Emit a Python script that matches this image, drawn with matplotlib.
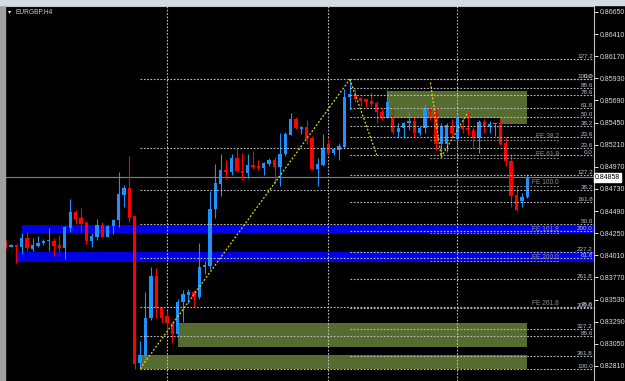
import matplotlib
matplotlib.use("Agg")
import matplotlib.pyplot as plt
import matplotlib.transforms as mtransforms
from matplotlib.patches import Rectangle

plt.rcParams['font.family'] = ['Liberation Sans', 'DejaVu Sans']

SYMBOL = 'EURGBP,H4'
LAST_PRICE = 0.84858

# H4 candles, left to right
opens = [0.84144, 0.84106, 0.84126, 0.84104, 0.84198, 0.84079, 0.84112, 0.84147, 0.84163, 0.84169,
         0.84123, 0.84093, 0.84310, 0.84484, 0.84415, 0.84364, 0.84169, 0.84213, 0.84339, 0.84213,
         0.84325, 0.84397, 0.84668, 0.84744, 0.84437, 0.82839, 0.82919, 0.83327, 0.83786, 0.83442,
         0.83352, 0.83280, 0.83157, 0.83508, 0.83580, 0.83616, 0.83562, 0.83881, 0.83898, 0.84510,
         0.84784, 0.84936, 0.84914, 0.85066, 0.84928, 0.84900, 0.84994, 0.84979, 0.84958, 0.85001,
         0.85041, 0.84965, 0.85110, 0.85316, 0.85489, 0.85384, 0.85402, 0.85283, 0.84944, 0.84990,
         0.85218, 0.85124, 0.85153, 0.85189, 0.85728, 0.85750, 0.85720, 0.85703, 0.85685, 0.85660,
         0.85568, 0.85503, 0.85533, 0.85352, 0.85388, 0.85443, 0.85468, 0.85334, 0.85388, 0.85594,
         0.85576, 0.85218, 0.85218, 0.85417, 0.85269, 0.85413, 0.85395, 0.85370, 0.85280, 0.85460,
         0.85399, 0.85432, 0.85443, 0.85226, 0.85037, 0.84665, 0.84603, 0.84640]
highs = [0.84177, 0.84130, 0.84133, 0.84249, 0.84264, 0.84195, 0.84220, 0.84184, 0.84310, 0.84198,
         0.84231, 0.84325, 0.84618, 0.84502, 0.84527, 0.84383, 0.84249, 0.84405, 0.84375, 0.84334,
         0.84405, 0.84911, 0.84773, 0.85091, 0.84445, 0.83081, 0.83616, 0.83881, 0.83876, 0.83453,
         0.83407, 0.83291, 0.83537, 0.83634, 0.83645, 0.83634, 0.84141, 0.83952, 0.84712, 0.85001,
         0.85110, 0.85045, 0.85110, 0.85171, 0.85124, 0.85110, 0.85145, 0.85045, 0.85026, 0.85066,
         0.85080, 0.85341, 0.85345, 0.85551, 0.85514, 0.85413, 0.85478, 0.85305, 0.85066, 0.85327,
         0.85269, 0.85178, 0.85226, 0.85811, 0.85920, 0.85811, 0.85731, 0.85714, 0.85785, 0.85685,
         0.85605, 0.85804, 0.85605, 0.85443, 0.85460, 0.85568, 0.85514, 0.85413, 0.85660, 0.85623,
         0.85605, 0.85449, 0.85443, 0.85489, 0.85514, 0.85514, 0.85562, 0.85406, 0.85478, 0.85486,
         0.85468, 0.85449, 0.85489, 0.85291, 0.85099, 0.84763, 0.84683, 0.84893]
lows = [0.84090, 0.84101, 0.83931, 0.84025, 0.84061, 0.84061, 0.84098, 0.84123, 0.84057, 0.84003,
        0.84050, 0.83967, 0.84260, 0.84350, 0.84264, 0.84133, 0.84104, 0.84177, 0.84206, 0.84204,
        0.84242, 0.84315, 0.84538, 0.84372, 0.82774, 0.82802, 0.82868, 0.83309, 0.83327, 0.83280,
        0.83171, 0.83063, 0.83146, 0.83291, 0.83490, 0.83453, 0.83537, 0.83808, 0.83862, 0.84412,
        0.84657, 0.84838, 0.84882, 0.84914, 0.84828, 0.84853, 0.84944, 0.84936, 0.84879, 0.84979,
        0.84784, 0.84763, 0.85088, 0.85312, 0.85378, 0.85323, 0.85218, 0.84936, 0.84763, 0.84979,
        0.85110, 0.85099, 0.85045, 0.85175, 0.85587, 0.85677, 0.85630, 0.85623, 0.85623, 0.85443,
        0.85478, 0.85497, 0.85327, 0.85297, 0.85280, 0.85370, 0.85297, 0.85316, 0.85341, 0.85478,
        0.85153, 0.85080, 0.85135, 0.85297, 0.85171, 0.85341, 0.85316, 0.85171, 0.85124, 0.85334,
        0.85334, 0.85305, 0.85207, 0.84979, 0.84538, 0.84495, 0.84538, 0.84629]
closes = [0.84106, 0.84123, 0.84101, 0.84198, 0.84090, 0.84123, 0.84147, 0.84169, 0.84180, 0.84112,
          0.84090, 0.84318, 0.84484, 0.84401, 0.84350, 0.84169, 0.84220, 0.84339, 0.84213, 0.84325,
          0.84394, 0.84679, 0.84744, 0.84419, 0.82832, 0.82929, 0.83334, 0.83786, 0.83436, 0.83334,
          0.83273, 0.83160, 0.83508, 0.83591, 0.83616, 0.83562, 0.83881, 0.83906, 0.84510, 0.84792,
          0.84936, 0.84914, 0.85066, 0.84922, 0.84904, 0.84994, 0.84972, 0.84958, 0.85015, 0.85041,
          0.84965, 0.85110, 0.85327, 0.85489, 0.85395, 0.85402, 0.85272, 0.84944, 0.85001, 0.85171,
          0.85124, 0.85167, 0.85196, 0.85731, 0.85755, 0.85706, 0.85685, 0.85677, 0.85649, 0.85568,
          0.85503, 0.85677, 0.85352, 0.85388, 0.85449, 0.85471, 0.85341, 0.85388, 0.85605, 0.85568,
          0.85218, 0.85413, 0.85424, 0.85334, 0.85497, 0.85378, 0.85370, 0.85286, 0.85460, 0.85399,
          0.85432, 0.85443, 0.85218, 0.85037, 0.84654, 0.84502, 0.84646, 0.84858]

# period separators (bar index)
separators = [30, 60, 84]

# blue supply/demand zones: start bar, upper price, lower price
zone_start = [3, 2]
zone_top = [0.84339, 0.84050]
zone_bottom = [0.84249, 0.83941]

# olive rectangles: first bar, last bar, upper price, lower price
box_from = [71, 92, 32, 25]
box_to = [97, 97, 97, 97]
box_top = [0.85796, 0.85500, 0.83280, 0.82924]
box_bottom = [0.85500, 0.85435, 0.83019, 0.82772]

# fibonacci retracements: bar where levels start, price at 0%, price at 100%
fib_start = [25, 64, 64]
fib_p0 = [0.85920, 0.85100, 0.85940]
fib_p100 = [0.82780, 0.85920, 0.85105]
fib_levels = [
    [0.0, 23.6, 38.2, 50.0, 61.8, 78.6, 88.6, 100.0],
    [0.0, 23.6, 38.2, 50.0, 61.8, 78.6, 88.6, 100.0, 127.2],
    [127.2, 161.8, 200.0, 227.2, 261.8, 300.0, 327.2, 361.8],
]
fib_trend_bars = [(25, 64), (64, 69)]
fib_trend_prices = [(0.82780, 0.85920), (0.85920, 0.85100)]

# fibonacci expansion: points A, B, C
fe_bars = [79, 81, 86]
fe_prices = [0.85884, 0.85076, 0.85565]
fe_levels = [38.2, 61.8, 100.0, 161.8, 200.0, 261.8]

yticks = [0.82810, 0.83050, 0.83290, 0.83530, 0.83770, 0.84010, 0.84250, 0.84490,
          0.84730, 0.84970, 0.85210, 0.85450, 0.85690, 0.85930, 0.86170, 0.86410, 0.86650]

BULL = '#1e90ff'
BEAR = '#ff0000'
DOT = (0, (1.5, 1.5))

fig = plt.figure(figsize=(6.25, 3.81), dpi=100, facecolor='black')
# window frame
fig.patches.append(Rectangle((0, 0), 5 / 625, 1, transform=fig.transFigure, color='#a0a0a0', zorder=0))
fig.patches.append(Rectangle((0, 1 - 5 / 381), 1, 5 / 381, transform=fig.transFigure, color='#d4dbe4', zorder=0))

ax = fig.add_axes([5 / 625, 0, 589 / 625, 375 / 381], facecolor='black')
ax.set_xlim(-0.12, 109.41)
ax.set_ylim(0.82647, 0.86715)

blend = mtransforms.blended_transform_factory(ax.transAxes, ax.transData)
x_right = ax.get_xlim()[1]

# zones and boxes
for s, t, b in zip(zone_start, zone_top, zone_bottom):
    ax.add_patch(Rectangle((s, b), x_right - s, t - b, color='#0000e6', lw=0, zorder=1))
for f, e, t, b in zip(box_from, box_to, box_top, box_bottom):
    ax.add_patch(Rectangle((f, b), e - f, t - b, facecolor='#556b2f', edgecolor='none', zorder=1))

# separators
for s in separators:
    ax.axvline(s, color='#c0c0c0', lw=0.8, ls=DOT, zorder=2)

# bid line
ax.axhline(LAST_PRICE, color='#808080', lw=0.8, zorder=2)

# candles
w = 0.62
for i, (o, h, l, c) in enumerate(zip(opens, highs, lows, closes)):
    col = BULL if c >= o else BEAR
    ax.vlines(i, l, h, color=col, lw=0.8, zorder=3)
    lo, hi = min(o, c), max(o, c)
    ax.add_patch(Rectangle((i - w / 2, lo), w, max(hi - lo, 0.00011), color=col, lw=0, zorder=3))

# retracements
for s, p0, p100, levels in zip(fib_start, fib_p0, fib_p100, fib_levels):
    for lv in levels:
        p = p0 + (p100 - p0) * lv / 100
        ax.hlines(p, s, x_right, color='#c0c0c0', lw=0.8, ls=DOT, zorder=4)
        ax.text(0.998, p, f'{lv:.1f}', transform=blend, ha='right', va='bottom',
                fontsize=4.5, color='#b4c4d8', zorder=6, clip_on=True)
for (x0, x1), (y0, y1) in zip(fib_trend_bars, fib_trend_prices):
    ax.plot([x0, x1], [y0, y1], color='#e0e000', lw=0.9, ls=DOT, zorder=5)

# expansion
a, b, c = fe_prices
ax.plot(fe_bars, fe_prices, color='#e0e000', lw=0.9, ls=DOT, zorder=5)
for lv in fe_levels:
    p = c - (a - b) * lv / 100
    ax.hlines(p, fe_bars[0], 102.9, color='#909090', lw=0.8, ls=DOT, zorder=4)
    ax.text(0.9406, p, f'FE {lv:.1f}', transform=blend, ha='right', va='bottom',
            fontsize=4.8, color='#8c8c8c', zorder=6)

# price axis
for sp in ['left', 'bottom']:
    ax.spines[sp].set_visible(False)
ax.spines['right'].set_color('#c0c0c0')
ax.spines['top'].set_color('#c0c0c0')
ax.set_xticks([])
ax.yaxis.tick_right()
ax.set_yticks(yticks)
ax.set_yticklabels([f'{t:.5f}' for t in yticks])
ax.tick_params(axis='y', colors='#e0e0e0', labelsize=5.0, length=3, width=0.7, pad=1)
ax.text(1.002, LAST_PRICE, f'{LAST_PRICE:.5f}', transform=blend, ha='left', va='center',
        fontsize=5.0, color='black', clip_on=False,
        bbox=dict(boxstyle='square,pad=0.15', fc='white', ec='white'))

fig.text(8 / 625, 1 - 11.5 / 381, '\u25be', color='white', fontsize=4.5, va='center',
         family='DejaVu Sans')
fig.text(15.5 / 625, 1 - 11.5 / 381, SYMBOL, color='#d0d0d0', fontsize=4.8, va='center')

fig.savefig('out.png', dpi=100, facecolor='black')
